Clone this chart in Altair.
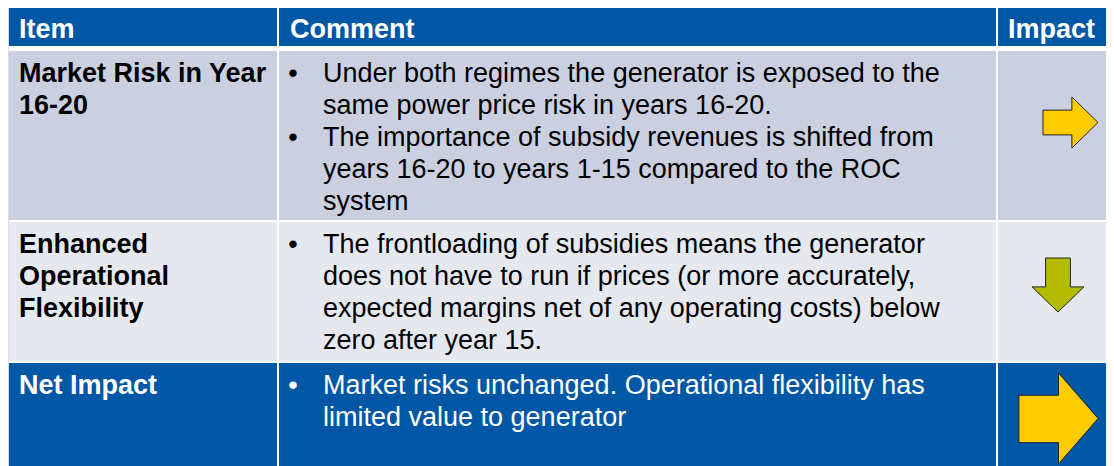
import altair as alt
import pandas as pd

# ---------------- content ----------------
headers = ["Item", "Comment", "Impact"]
items = [
    ["Market Risk in Year", "16-20"],
    ["Enhanced", "Operational", "Flexibility"],
    ["Net Impact"],
]
comments = [
    [
        ["Under both regimes the generator is exposed to the",
         "same power price risk in years 16-20."],
        ["The importance of subsidy revenues is shifted from",
         "years 16-20 to years 1-15 compared to the ROC",
         "system"],
    ],
    [
        ["The frontloading of subsidies means the generator",
         "does not have to run if prices (or more accurately,",
         "expected margins net of any operating costs) below",
         "zero after year 15."],
    ],
    [
        ["Market risks unchanged. Operational flexibility has",
         "limited value to generator"],
    ],
]
impacts = ["right", "down", "right"]

# ---------------- layout (pixels; chart origin = page (8, 6)) ----------------
W, H = 1098, 460
col_edges = [(1, 269), (271, 988), (990, 1098)]
row_edges = [(0, 40), (45, 214), (216, 355), (357, 460)]
row_kind = ["head", "light", "pale", "net"]
kind_fill = {"head": "#0057A6", "light": "#CBD0E1", "pale": "#E6E8F0", "net": "#0057A6"}
kind_text = {"head": "white", "light": "black", "pale": "black", "net": "white"}
FS = 27
LH = 32
BASE = 30.5
text_x = [11, 282, 1000]
bullet_x = 285
comment_x = 315
col3_center = 1048

cells = []
for r, (y0, y1) in enumerate(row_edges):
    for c, (x0, x1) in enumerate(col_edges):
        cells.append({"x": x0, "x2": x1, "y": y0, "y2": y1,
                      "fill": kind_fill[row_kind[r]]})
cells = pd.DataFrame(cells)

bold_rows = []
for c, h in enumerate(headers):
    bold_rows.append({"x": text_x[c], "y": row_edges[0][0] + BASE + 1, "t": h,
                      "col": kind_text["head"]})
for r, lines in enumerate(items):
    y0 = row_edges[r + 1][0]
    for i, ln in enumerate(lines):
        bold_rows.append({"x": text_x[0], "y": y0 + BASE + i * LH, "t": ln,
                          "col": kind_text[row_kind[r + 1]]})
bold_df = pd.DataFrame(bold_rows)

reg_rows, bul_rows = [], []
for r, bullets in enumerate(comments):
    y0 = row_edges[r + 1][0]
    k = 0
    col = kind_text[row_kind[r + 1]]
    for b in bullets:
        bul_rows.append({"x": bullet_x, "y": y0 + BASE + k * LH, "t": "•", "col": col})
        for ln in b:
            reg_rows.append({"x": comment_x, "y": y0 + BASE + k * LH, "t": ln, "col": col})
            k += 1
reg_df = pd.DataFrame(reg_rows)
bul_df = pd.DataFrame(bul_rows)

# arrow shapes
right_small = "M-1,-0.45 L0.05,-0.45 L0.05,-0.93 L1,0 L0.05,0.93 L0.05,0.45 L-1,0.45 Z"
down_small = "M-0.46,-1 L0.46,-1 L0.46,0.07 L0.96,0.07 L0,1 L-0.96,0.07 L-0.46,0.07 Z"
right_big = "M-0.87,-0.51 L0,-0.51 L0,-1 L0.87,0 L0,1 L0,0.53 L-0.87,0.53 Z"
arrow_geom = [
    # (key, dx from column centre, dy from cell top, size, fill)
    ("r1", 14.5, 71.5, 3025, "#FFCC00"),
    ("r2", 2, 63, 2916, "#B3BC00"),
    ("r3", 2.5, 55.5, 8281, "#FFCC00"),
]
shape_for = {"r1": right_small, "r2": down_small, "r3": right_big}
arr = []
for r, d in enumerate(impacts):
    key, dx, dy, size, fill = arrow_geom[r]
    arr.append({"x": col3_center + dx, "y": row_edges[r + 1][0] + dy, "key": key,
                "size": size, "fill": fill, "dir": d})
arr_df = pd.DataFrame(arr)

xs = alt.Scale(domain=[0, W], nice=False, zero=False)
ys = alt.Scale(domain=[0, H], nice=False, zero=False, reverse=True)
X = lambda f="x": alt.X(f"{f}:Q", scale=xs, axis=None)
Y = lambda f="y": alt.Y(f"{f}:Q", scale=ys, axis=None)

rects = alt.Chart(cells).mark_rect(strokeWidth=0).encode(
    x=X(), x2="x2:Q", y=Y(), y2="y2:Q",
    fill=alt.Fill("fill:N", scale=None),
)

def text_layer(df, weight, align="left"):
    return alt.Chart(df).mark_text(
        font="Liberation Sans", fontSize=FS, fontWeight=weight,
        align=align, baseline="alphabetic",
    ).encode(x=X(), y=Y(), text="t:N", color=alt.Color("col:N", scale=None))

bold = text_layer(bold_df, "bold")
regular = text_layer(reg_df, "normal")
bullets = text_layer(bul_df, "normal", align="center")

arrows = alt.Chart(arr_df).mark_point(
    filled=True, opacity=1, stroke="#222222", strokeWidth=1, strokeOpacity=1,
    fillOpacity=1,
).encode(
    x=X(), y=Y(),
    shape=alt.Shape("key:N", scale=alt.Scale(domain=list(shape_for.keys()),
                                             range=list(shape_for.values())),
                    legend=None),
    size=alt.Size("size:Q", scale=None),
    fill=alt.Fill("fill:N", scale=None),
)

chart = alt.layer(rects, bold, regular, bullets, arrows).properties(
    width=W, height=H,
    padding={"left": 0, "top": -2, "right": 0, "bottom": 0},
    autosize=alt.AutoSizeParams(type="none"),
).configure_view(stroke=None).configure(background="white")

chart.save("out.html", embed_options={"renderer": "svg", "actions": False})
